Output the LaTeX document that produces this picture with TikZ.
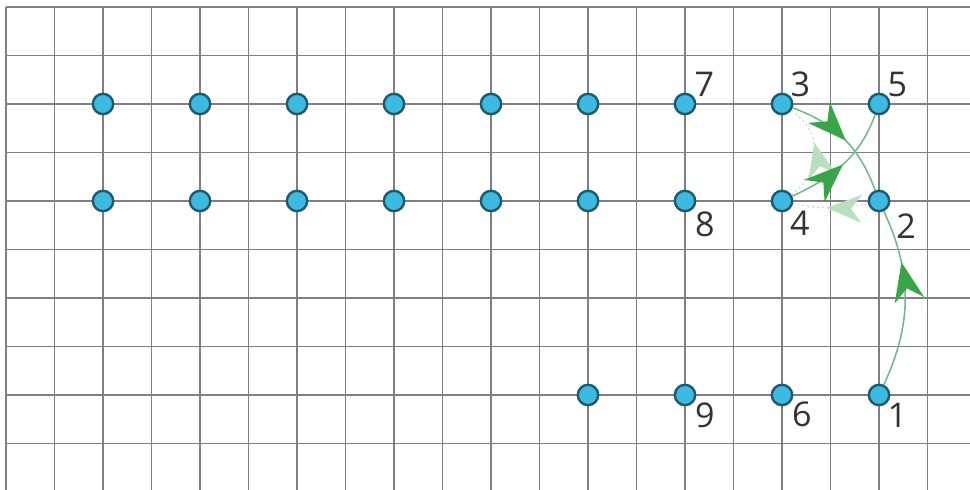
\documentclass[tikz,border=0pt]{standalone}
\usepackage{fontspec}
\setmainfont{Open Sans}
\usepackage{xcolor}
\usepackage{tikz}
\usetikzlibrary{arrows.meta, calc, decorations.markings}

\definecolor{dotfill}{HTML}{3DB9E2}
\definecolor{dotrim}{HTML}{1D5B6C}
\definecolor{pathgreen}{HTML}{72B88E}
\definecolor{tipgreen}{HTML}{3AA548}

\begin{document}
\begin{tikzpicture}[
      gridline/.style={draw=black!50, line width=1.1pt},
      dot/.style={circle, draw=dotrim, fill=dotfill, line width=1.4pt, minimum size=0.42cm, inner sep=0pt},
      num/.style={text=black!80, font=\fontsize{20}{24}\selectfont, inner sep=0pt},
      move/.style={draw=pathgreen, line width=0.9pt, postaction={decorate},
        decoration={markings, mark=at position #1 with {\arrow[tipgreen]{Stealth[length=0.8cm, width=0.62cm, inset=0.25cm]}}}},
      ghost/.style={draw=pathgreen!45, dotted, line width=0.9pt, postaction={decorate},
        decoration={markings, mark=at position #1 with {\arrow[tipgreen!35]{Stealth[length=0.72cm, width=0.58cm, inset=0.22cm]}}}}
    ]
      \useasboundingbox[fill=white] (-0.124,-9.959) rectangle (19.876,0.144);
      \draw[gridline] (0,-9.959) grid (19.876,0);

      % rows of dots without numbers
      \foreach \i in {1,...,6} {
        \node[dot] (t\i) at (2*\i,-2) {};
        \node[dot] (m\i) at (2*\i,-4) {};
      }
      \node[dot] (b6) at (12,-8) {};

      % numbered dots
      \node[dot] (d7) at (14,-2) {};
      \node[dot] (d3) at (16,-2) {};
      \node[dot] (d5) at (18,-2) {};
      \node[dot] (d8) at (14,-4) {};
      \node[dot] (d4) at (16,-4) {};
      \node[dot] (d2) at (18,-4) {};
      \node[dot] (d9) at (14,-8) {};
      \node[dot] (d6) at (16,-8) {};
      \node[dot] (d1) at (18,-8) {};

      \node[num] (n7) at ($(d7)+(0.4,0.4)$) {7};
      \node[num] (n3) at ($(d3)+(0.38,0.4)$) {3};
      \node[num] (n5) at ($(d5)+(0.38,0.4)$) {5};
      \node[num] (n8) at ($(d8)+(0.41,-0.48)$) {8};
      \node[num] (n4) at ($(d4)+(0.37,-0.46)$) {4};
      \node[num] (n2) at ($(d2)+(0.56,-0.52)$) {2};
      \node[num] (n9) at ($(d9)+(0.41,-0.42)$) {9};
      \node[num] (n6) at ($(d6)+(0.41,-0.4)$) {6};
      \node[num] (n1) at ($(d1)+(0.38,-0.42)$) {1};

      % faint moves
      \path[ghost=0.55] (d2) to[bend left=12] (d4);
      \path[ghost=0.6] (d4) to[out=35, in=-35, looseness=1.2] (d3);

      % moves
      \path[move=0.7] (d1) to[bend right=25] (d2);
      \path[move=0.52] (d3) to[out=-20, in=110] (d2);
      \path[move=0.5] (d4) to[out=25, in=-110] (d5);
\end{tikzpicture}
\end{document}
